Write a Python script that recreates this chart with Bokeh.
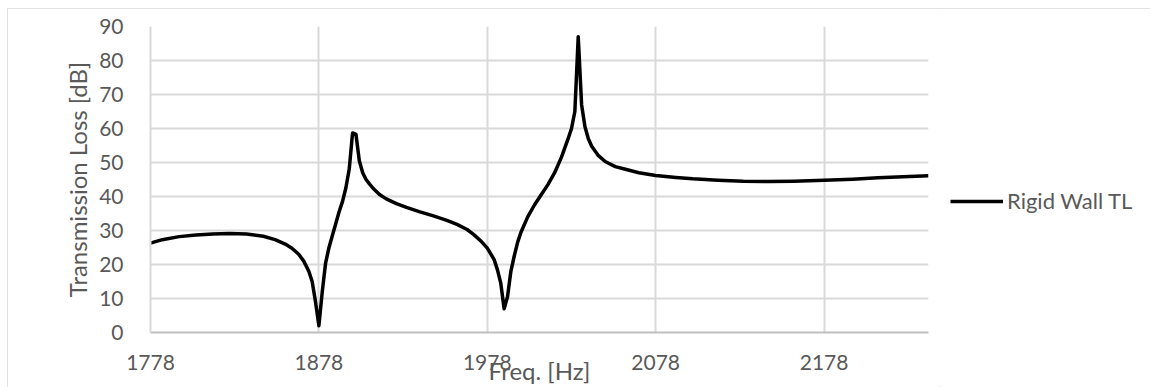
from bokeh.plotting import figure
from bokeh.layouts import row
from bokeh.models import Range1d, FixedTicker, Legend, LegendItem
from bokeh.embed import file_html
from bokeh.resources import INLINE

freq = [1778, 1785, 1795, 1805, 1815, 1825, 1835, 1845, 1852, 1858, 1862, 1866, 1869,
        1872, 1874, 1876, 1878, 1880, 1882, 1884, 1886, 1888, 1890, 1892, 1894, 1896,
        1898, 1900, 1902, 1904, 1906, 1908, 1910, 1914, 1918, 1924, 1930, 1938, 1946,
        1954, 1960, 1966, 1970, 1974, 1978, 1982, 1984, 1986, 1988, 1990, 1992, 1994,
        1996, 1998, 2002, 2006, 2010, 2014, 2018, 2022, 2026, 2028, 2030, 2032, 2034,
        2036, 2038, 2040, 2044, 2048, 2054, 2060, 2068, 2078, 2090, 2100, 2115, 2130,
        2145, 2160, 2178, 2195, 2210, 2225, 2240]
tl = [26.3, 27.3, 28.2, 28.7, 29.0, 29.1, 29.0, 28.3, 27.3, 26.0, 24.8, 23.0, 21.0,
      18.0, 15.0, 9.0, 2.0, 12.0, 20.5, 25.0, 28.5, 32.0, 35.5, 38.5, 42.5, 48.0,
      58.7, 58.3, 50.5, 47.0, 45.0, 43.7, 42.5, 40.6, 39.3, 37.9, 36.8, 35.5, 34.3,
      33.0, 31.8, 30.3, 28.8, 27.0, 24.8, 21.5, 18.5, 14.5, 7.0, 10.5, 18.0, 22.5,
      26.5, 29.5, 34.0, 37.5, 40.5, 43.5, 47.0, 51.5, 57.0, 60.0, 65.0, 87.0, 67.0,
      60.5, 57.0, 54.8, 52.0, 50.3, 48.8, 48.0, 47.0, 46.2, 45.6, 45.2, 44.8, 44.5,
      44.4, 44.5, 44.8, 45.1, 45.5, 45.8, 46.1]
x_ticks = [1778, 1878, 1978, 2078, 2178]
y_ticks = [0, 10, 20, 30, 40, 50, 60, 70, 80, 90]
series_name = "Rigid Wall TL"

FONT = "Lato"
GREY = "#595959"
LINE_COLOR = "black"
LINE_W = 3.5

# ---- main chart -------------------------------------------------------
p = figure(width=933, height=379, output_backend="svg", toolbar_location=None,
           x_range=Range1d(1778, 2240), y_range=Range1d(0, 90),
           min_border_left=143, min_border_right=12, min_border_top=18,
           min_border_bottom=55)
p.outline_line_color = None
p.background_fill_color = "white"
p.border_fill_color = "white"

p.line(freq, tl, line_color=LINE_COLOR, line_width=LINE_W, line_join="round")

p.xaxis.ticker = FixedTicker(ticks=x_ticks)
p.yaxis.ticker = FixedTicker(ticks=y_ticks)
for ax in (p.xaxis, p.yaxis):
    ax.major_tick_line_color = None
    ax.minor_tick_line_color = None
    ax.major_label_text_font = FONT
    ax.major_label_text_font_size = "21px"
    ax.major_label_text_color = GREY
    ax.axis_label_text_font = FONT
    ax.axis_label_text_font_size = "24px"
    ax.axis_label_text_color = GREY
    ax.axis_label_text_font_style = "normal"
p.xaxis.axis_line_color = "#bfbfbf"
p.xaxis.axis_line_width = 2
p.yaxis.axis_line_color = "#d9d9d9"
p.yaxis.axis_line_width = 2
p.xaxis.axis_label = "Freq. [Hz]"
p.yaxis.axis_label = "Transmission Loss [dB]"
p.xaxis.major_label_standoff = 16
p.yaxis.major_label_standoff = 21
p.xaxis.axis_label_standoff = -17
p.yaxis.axis_label_standoff = 4

p.xgrid.grid_line_color = "#d9d9d9"
p.ygrid.grid_line_color = "#d9d9d9"
p.xgrid.grid_line_width = 2
p.ygrid.grid_line_width = 2

# ---- legend panel (same series, drawn outside its visible range) --------
q = figure(width=210, height=379, output_backend="svg", toolbar_location=None,
           x_range=Range1d(0, 1), y_range=Range1d(0, 1),
           x_axis_location=None, y_axis_location=None,
           min_border_left=0, min_border_right=0, min_border_top=0,
           min_border_bottom=0)
q.grid.visible = False
q.outline_line_color = None
q.background_fill_color = "white"
q.border_fill_color = "white"
lr = q.line(freq, tl, line_color=LINE_COLOR, line_width=LINE_W)
legend = Legend(items=[LegendItem(label=series_name, renderers=[lr])],
                location=(10, 118), border_line_color=None,
                background_fill_alpha=0, padding=0, margin=0,
                glyph_width=53, label_standoff=4,
                label_text_font=FONT, label_text_font_size="22px",
                label_text_color=GREY)
q.add_layout(legend, "center")

layout = row(p, q, spacing=0)
layout.margin = (8, 1, 0, 7)
layout.styles = {"outline": "1px solid #d9d9d9", "outline-offset": "-1px"}

open("out.html", "w").write(file_html(layout, INLINE))
